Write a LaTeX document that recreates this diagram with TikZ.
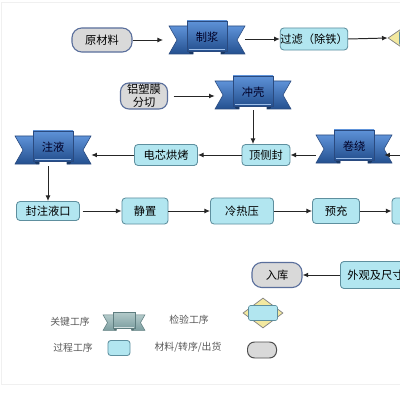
\documentclass[tikz,border=0pt]{standalone}
\usepackage{fontspec}
\newfontfamily\cjk{Noto Sans CJK SC}
\usetikzlibrary{arrows.meta,calc,shapes.geometric}
\definecolor{bantop}{HTML}{5E92D8}
\definecolor{banbot}{HTML}{24508F}
\definecolor{banedge}{HTML}{2A4A7F}
\definecolor{boxfill}{HTML}{B2E6F0}
\definecolor{boxedge}{HTML}{5E8F9E}
\definecolor{matfill}{HTML}{D9D9D9}
\definecolor{matedge}{HTML}{5A6F9C}
\definecolor{diafill}{HTML}{F3E9A0}
\definecolor{legtop}{HTML}{B3CACA}
\definecolor{legbot}{HTML}{7C9EA0}
\definecolor{legedge}{HTML}{5F7E80}
\tikzset{
  base/.style={font=\cjk\fontsize{8}{9.5}\selectfont, inner sep=0pt, align=center},
  procbox/.style={base, draw=boxedge, fill=boxfill, rounded corners=2.5pt, line width=0.6pt},
  matbox/.style={base, draw=matedge, fill=matfill, rounded corners=7pt, line width=0.8pt},
  bannode/.style={base, minimum width=19mm, minimum height=7.5mm, text=black!85!blue},
  diabox/.style={diamond, draw=gray, fill=diafill, line width=0.5pt, inner sep=0pt, minimum width=10mm, minimum height=7.5mm},
  innerbox/.style={draw=boxedge, fill=boxfill, rounded corners=1.5pt, minimum width=7.25mm, minimum height=3.75mm, inner sep=0pt},
  arr/.style={-{Latex[length=4pt,width=3.5pt]}, line width=0.7pt, black!85},
  legtext/.style={font=\cjk\fontsize{7}{8}\selectfont, text=black!65, inner sep=0pt},
}
\newcommand\bandeco[5]{%
  \begin{scope}[shift={(#1.center)}, scale=#2]
    \path[draw=#5, line width=0.4pt, top color=#3, bottom color=#4]
      (-38,-11) -- (-14,-11) -- (-14,17) -- (-38,17) -- (-30,3) -- cycle;
    \path[draw=#5, line width=0.4pt, top color=#3, bottom color=#4]
      (38,-11) -- (14,-11) -- (14,17) -- (38,17) -- (30,3) -- cycle;
    \fill[#4!70!black] (-20,12) -- (-14,12) -- (-14,17) -- (-17,17) -- cycle;
    \fill[#4!70!black] (20,12) -- (14,12) -- (14,17) -- (17,17) -- cycle;
    \path[draw=#5, line width=0.4pt, top color=#3, bottom color=#4] (-20,-16) rectangle (20,14);
    \draw[#3!60!white, line width=0.3pt] (-18,12) -- (18,12);
  \end{scope}}
\begin{document}
\begin{tikzpicture}[x=0.025cm, y=-0.025cm]
\useasboundingbox (0,0) rectangle (400,400);
\clip (0,0) rectangle (400,400);
\fill[white] (0,0) rectangle (400,400);
\draw[gray!12, line width=0.6pt] (1,2) rectangle (404,384);

% banner anchor nodes (invisible) - decorations first
\path (207,37) node[bannode] (zj) {};
\path (253,92) node[bannode] (ck) {};
\path (354,146) node[bannode] (jr) {};
\path (53,147) node[bannode] (zy) {};
\bandeco{zj}{1}{bantop}{banbot}{banedge}
\bandeco{ck}{1}{bantop}{banbot}{banedge}
\bandeco{jr}{1}{bantop}{banbot}{banedge}
\bandeco{zy}{1}{bantop}{banbot}{banedge}
\node[base, text=black!85!blue] at (zj) {制浆};
\node[base, text=black!85!blue] at (ck) {冲壳};
\node[base, text=black!85!blue] at (jr) {卷绕};
\node[base, text=black!85!blue] at (zy) {注液};

% row 1
\node[matbox, minimum width=15mm, minimum height=6mm] (ycl) at (102,40) {原材料};
\node[procbox, minimum width=16.5mm, minimum height=5.5mm] (gl) at (314,39) {过滤（除铁）};
\node[diabox, minimum width=13mm, minimum height=9mm] (jy1) at (414,38) {};
\node[innerbox] at (jy1) {};

% row 2
\node[matbox, minimum width=11.75mm, minimum height=6.5mm, rounded corners=6pt] (lsm) at (144,96) {铝塑膜\\分切};

% row 3
\node[procbox, minimum width=12mm, minimum height=5.25mm] (dcf) at (266,155) {顶侧封};
\node[procbox, minimum width=15.75mm, minimum height=5.25mm] (dxhk) at (166,155) {电芯烘烤};
\coordinate (rin) at (402,155);

% row 4
\node[procbox, minimum width=15.75mm, minimum height=4.75mm] (fzyk) at (48,211) {封注液口};
\node[procbox, minimum width=11.5mm, minimum height=6.5mm] (jz) at (145,211) {静置};
\node[procbox, minimum width=15.75mm, minimum height=6.5mm] (lry) at (242,211) {冷热压};
\node[procbox, minimum width=11.75mm, minimum height=6.25mm] (yc) at (336,211) {预充};
\node[procbox, minimum width=11.5mm, minimum height=6.5mm] (nx) at (415,211) {};

% row 5
\node[matbox, minimum width=12.5mm, minimum height=6.25mm] (rk) at (277,275) {入库};
\node[procbox, anchor=west, minimum width=27.5mm, minimum height=6.75mm, text width=24mm, align=left] (wg) at (340,275) {外观及尺寸};

% connectors
\draw[arr, shorten >=4pt] (ycl.east) -- (zj.west |- ycl.east);
\draw[arr] (zj.east |- gl.west) -- (gl.west);
\draw[arr] (gl.east) -- (jy1.west);
\draw[arr, shorten <=4pt] (lsm.east) -- (ck.west |- lsm.east);
\draw[arr] ($(ck.south)+(0,3)$) -- (ck.south |- dcf.north);
\draw[arr] (rin) -- ($(jr.east |- rin)+(-8,0)$);
\draw[arr] (jr.west |- dcf.east) -- (dcf.east);
\draw[arr] (dcf.west) -- (dxhk.east);
\draw[arr] (dxhk.west) -- (zy.east |- dxhk.west);
\draw[arr] ($(fzyk.north |- zy.south)+(0,4)$) -- (fzyk.north);
\draw[arr, shorten <=2pt] (fzyk.east) -- (jz.west);
\draw[arr] (jz.east) -- (lry.west);
\draw[arr] (lry.east) -- (yc.west);
\draw[arr] (yc.east) -- (nx.west);
\draw[arr] (wg.west) -- (rk.east);

% legend
\node[legtext] (l1) at (70,322) {关键工序};
\path (124,321) node[minimum width=10.5mm, minimum height=4mm, inner sep=0pt] (lgb) {};
\bandeco{lgb}{0.55}{legtop}{legbot}{legedge}
\node[legtext] (l2) at (189,320) {检验工序};
\node[diabox] (lgd) at (263,313) {};
\node[innerbox] (lgdi) at (lgd) {};
\node[legtext] (l3) at (73,348) {过程工序};
\node[draw=boxedge, fill=boxfill, rounded corners=2pt, line width=0.6pt, minimum width=5.5mm, minimum height=3.75mm, inner sep=0pt] (lgp) at (119,348) {};
\node[legtext] (l4) at (188,347) {材料/转序/出货};
\node[draw=black!70, fill=matfill, rounded corners=5pt, line width=0.7pt, minimum width=7.25mm, minimum height=4mm, inner sep=0pt] (lgm) at (262,350) {};
\end{tikzpicture}
\end{document}
